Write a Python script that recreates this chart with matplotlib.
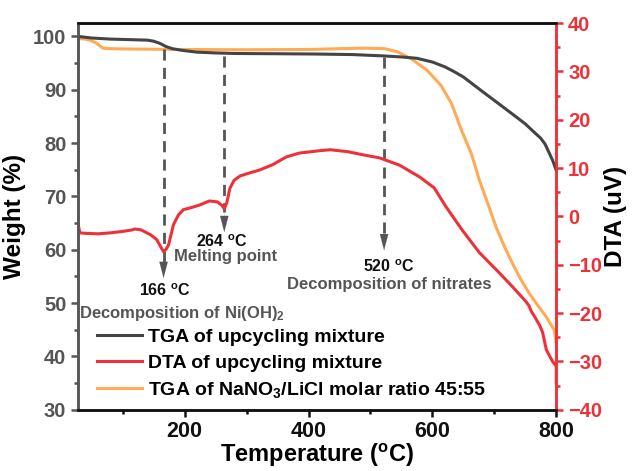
import numpy as np
import matplotlib
matplotlib.use('Agg')
from matplotlib import pyplot as plt
from matplotlib.ticker import MultipleLocator

plt.rcParams['font.family'] = ['Liberation Sans', 'DejaVu Sans']
plt.rcParams['font.weight'] = 'bold'
plt.rcParams['mathtext.fontset'] = 'custom'
plt.rcParams['mathtext.rm'] = 'Liberation Sans:bold'
plt.rcParams['mathtext.bf'] = 'Liberation Sans:bold'
plt.rcParams['mathtext.default'] = 'rm'

# TGA of upcycling mixture (temperature in C, weight in %)
tga_mix_t = [28, 50, 80, 110, 140, 150, 160, 170, 180, 195, 220, 250, 280, 350, 410, 470,
             520, 550, 575, 600, 620, 635, 650, 668, 685, 700, 716, 732, 750, 761, 775,
             782, 794, 800]
tga_mix_w = [100.0, 99.7, 99.5, 99.4, 99.3, 99.1, 98.7, 98.1, 97.7, 97.4, 97.05, 96.9, 96.8,
             96.75, 96.7, 96.6, 96.35, 96.15, 95.9, 95.2, 94.3, 93.4, 92.4, 90.8, 89.3, 88.0,
             86.6, 85.2, 83.6, 82.4, 80.9, 79.8, 76.8, 74.9]

# DTA of upcycling mixture (uV)
dta_t = [28, 31, 40, 60, 80, 100, 115, 120, 130, 145, 155, 161, 166, 170, 174, 182, 190, 198,
         210, 225, 240, 253, 260, 264, 268, 273, 280, 290, 305, 321, 342, 364, 385, 418, 435,
         463, 490, 515, 547, 579, 603, 622, 648, 676, 703, 729, 751, 756, 760, 765, 773, 778,
         784, 794, 800, 800]
dta_v = [-1.7, -3.4, -3.5, -3.6, -3.4, -3.1, -2.8, -2.6, -2.8, -3.8, -4.8, -6.2, -7.3, -6.8,
         -5.9, -1.7, 0.3, 1.4, 1.8, 2.4, 3.2, 3.0, 2.3, 1.6, 2.8, 5.8, 7.5, 8.4, 9.0, 9.6, 10.7,
         12.3, 13.1, 13.6, 13.8, 13.4, 12.7, 12.1, 10.6, 8.2, 5.9, 2.0, -2.8, -7.5, -11.0,
         -14.5, -17.6, -18.5, -19.7, -20.7, -22.5, -24.0, -27.6, -30.0, -31.0, -34.4]

# TGA of NaNO3/LiCl 45:55
tga_salt_t = [28, 40, 47, 58, 68, 80, 100, 150, 200, 300, 400, 450, 490, 523, 544, 566, 592,
              614, 631, 647, 663, 676, 690, 703, 716, 729, 742, 756, 770, 784, 797, 800]
tga_salt_w = [99.6, 99.5, 99.3, 98.7, 97.8, 97.7, 97.65, 97.6, 97.55, 97.5, 97.55, 97.7, 97.8,
              97.7, 97.1, 95.8, 93.6, 90.8, 87.4, 82.4, 78.0, 73.0, 68.5, 64.2, 60.7, 57.5,
              54.6, 51.9, 49.6, 47.4, 44.9, 42.5]

# events: temperature, dashed line top, arrow head top, arrow tip (weight %)
ev_t = [166, 264, 522]
ev_top = [97.6, 96.4, 96.1]
ev_head = [57.7, 67.0, 62.5]
ev_tip = [54.7, 63.3, 59.9]

c_black = '#444444'
c_red = '#ee3138'
c_orange = '#ffaa55'
c_gray = '#555555'

fig = plt.figure(figsize=(6.35, 4.71), dpi=100)
ax = fig.add_axes([0.123, 0.130, 0.753, 0.821])
ax2 = ax.twinx()

l1, = ax.plot(tga_mix_t, tga_mix_w, color=c_black, lw=2.2, zorder=3, solid_joinstyle='round')
l3, = ax.plot(tga_salt_t, tga_salt_w, color=c_orange, lw=2.2, zorder=2, solid_joinstyle='round')
l2, = ax2.plot(dta_t, dta_v, color=c_red, lw=2.2, solid_joinstyle='round')

for t, top, head, tip in zip(ev_t, ev_top, ev_head, ev_tip):
    ax.plot([t, t], [top, head], color=c_gray, lw=2, dashes=(4, 2.6), zorder=4)
    ax.annotate('', xy=(t, tip), xytext=(t, head),
                arrowprops=dict(arrowstyle='-|>,head_length=1.15,head_width=0.3',
                                color=c_gray, lw=0.1, shrinkA=0, shrinkB=0), zorder=4)

ax.text(168, 52.4, '166 $^{\\rm o}$C', ha='center', va='center', fontsize=11.5, color='#111111')
ax.text(29, 48.1, 'Decomposition of Ni(OH)$_2$', ha='left', va='center', fontsize=12,
        color=c_gray)
ax.text(260, 61.6, '264 $^{\\rm o}$C', ha='center', va='center', fontsize=11.5, color='#111111')
ax.text(266, 58.8, 'Melting point', ha='center', va='center', fontsize=12, color=c_gray)
ax.text(529, 56.9, '520 $^{\\rm o}$C', ha='center', va='center', fontsize=11.5, color='#111111')
ax.text(531, 53.4, 'Decomposition of nitrates', ha='center', va='center', fontsize=12,
        color=c_gray)

ax.set_xlim(28, 800)
ax.set_ylim(30, 102.5)
ax2.set_ylim(-40, 40)

ax.xaxis.set_major_locator(MultipleLocator(200))
ax.xaxis.set_minor_locator(MultipleLocator(100))
ax.yaxis.set_major_locator(MultipleLocator(10))
ax.yaxis.set_minor_locator(MultipleLocator(5))
ax2.yaxis.set_major_locator(MultipleLocator(10))
ax2.yaxis.set_minor_locator(MultipleLocator(5))

ax.tick_params(axis='x', which='major', length=5, width=1.8, labelsize=15.5, colors='#111111',
               pad=3)
ax.tick_params(axis='x', which='minor', length=3, width=1.8, colors='#111111')
ax.tick_params(axis='y', which='major', length=5, width=1.8, labelsize=14.5, colors=c_gray)
ax.tick_params(axis='y', which='minor', length=3, width=1.8, colors=c_gray)
ax2.tick_params(axis='y', which='major', length=5, width=1.8, labelsize=14.5, colors=c_red)
ax2.tick_params(axis='y', which='minor', length=3, width=1.8, colors=c_red)

for a in (ax, ax2):
    a.spines['top'].set_color('#111111')
    a.spines['bottom'].set_color('#111111')
    a.spines['left'].set_color(c_gray)
    a.spines['right'].set_color(c_red)
    for s in a.spines.values():
        s.set_linewidth(1.8)

ax.set_xlabel('Temperature ($^{\\rm o}$C)', fontsize=17, fontweight='bold', labelpad=0)
ax.set_ylabel('Weight (%)', fontsize=17.5, fontweight='bold', labelpad=5)
ax2.set_ylabel('DTA (uV)', fontsize=17.5, fontweight='bold', labelpad=1)

ax.legend([l1, l2, l3],
          ['TGA of upcycling mixture', 'DTA of upcycling mixture',
           'TGA of NaNO$_3$/LiCl molar ratio 45:55'],
          loc='lower left', bbox_to_anchor=(0.04, 0.025), frameon=False,
          handlelength=2.3, handletextpad=0.3, labelspacing=0.42, borderpad=0,
          borderaxespad=0, prop=dict(weight='bold', size=14))

fig.savefig('out.png', dpi=100)
